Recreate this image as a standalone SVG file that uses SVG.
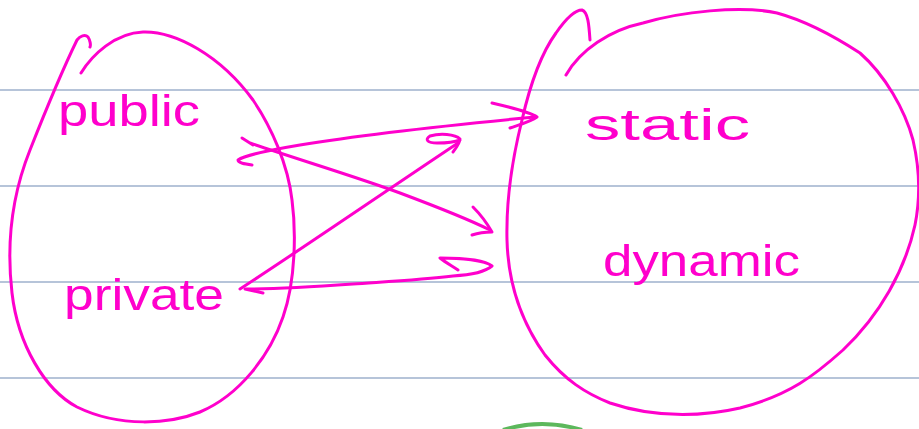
<svg xmlns="http://www.w3.org/2000/svg" width="919" height="429" viewBox="0 0 919 429">
<style>
.ink{fill:none;stroke:#ff00cc;stroke-width:3;stroke-linecap:round;stroke-linejoin:round}
.rule{stroke:#b6c4d9;stroke-width:2}
.lbl{fill:#ff00cc;font-family:"Liberation Sans",Arial,sans-serif;font-size:44px}
</style>
<rect width="919" height="429" fill="#ffffff"/>
<g id="ruled-lines">
<line class="rule" x1="0" y1="90" x2="919" y2="90"/>
<line class="rule" x1="0" y1="186" x2="919" y2="186"/>
<line class="rule" x1="0" y1="282" x2="919" y2="282"/>
<line class="rule" x1="0" y1="378" x2="919" y2="378"/>
</g>
<path d="M503,430 Q542,418 582,430" fill="none" stroke="#5cb85c" stroke-width="4"/>
<g id="left-set">
<path class="ink" d="M81,73 C92,55 115,33 143,32 C175,31 220,55 253,100 C272,128 288,165 292,200 C296,230 296,280 283,317 C270,355 240,395 200,412 C170,424 120,428 77,407 C45,390 18,345 12,293 C7,250 10,200 30,150 C45,112 60,75 77,40 C80,36 85,34 88,37 C90,40 91,45 90,47"/>
</g>
<g id="right-set">
<path class="ink" d="M566,75 C580,50 610,30 643,23 C680,12 740,5 777,13 C810,22 840,40 860,53 C885,75 905,110 913,140 C920,170 920,200 915,225 C905,270 880,315 843,350 C815,375 790,395 740,408 C710,415 660,420 610,403 C585,393 565,380 545,355 C520,320 508,280 507,240 C506,200 512,160 522,120 C530,85 540,55 556,33 C565,20 575,10 582,10 C588,12 589,25 590,40"/>
</g>
<g id="public"><text class="lbl" x="58" y="126" textLength="142" lengthAdjust="spacingAndGlyphs">public</text></g>
<g id="private"><text class="lbl" x="64" y="310" textLength="160" lengthAdjust="spacingAndGlyphs">private</text></g>
<g id="static"><text class="lbl" x="585" y="140" textLength="165" lengthAdjust="spacingAndGlyphs">static</text></g>
<g id="dynamic"><text class="lbl" x="603" y="276" textLength="197" lengthAdjust="spacingAndGlyphs">dynamic</text></g>
<g id="connectors">
<!-- public to dynamic -->
<path class="ink" d="M242,138 L253,145 M250,143 C300,160 360,178 400,193 C440,208 470,220 490,230"/>
<path class="ink" d="M473,207 C480,214 488,225 492,232 C485,232 478,233 472,235"/>
<!-- public to static -->
<path class="ink" d="M252,165 C245,164 238,163 238,160 C245,155 270,150 300,145 C360,135 440,126 535,117"/>
<path class="ink" d="M492,103 C505,106 530,112 537,117 C530,122 518,125 510,128"/>
<!-- private to static -->
<path class="ink" d="M240,289 C300,250 380,195 458,143"/>
<path class="ink" d="M453,152 C456,148 460,143 460,139 C455,134 440,133 430,136 C424,140 428,143 437,143 C447,143 455,142 460,140"/>
<!-- dynamic to private -->
<path class="ink" d="M458,270 C452,266 445,262 440,258 C460,258 485,260 492,266 C485,272 470,275 453,276 C420,280 380,282 353,284 C310,287 270,289 245,289 L263,293"/>
</g>
</svg>
